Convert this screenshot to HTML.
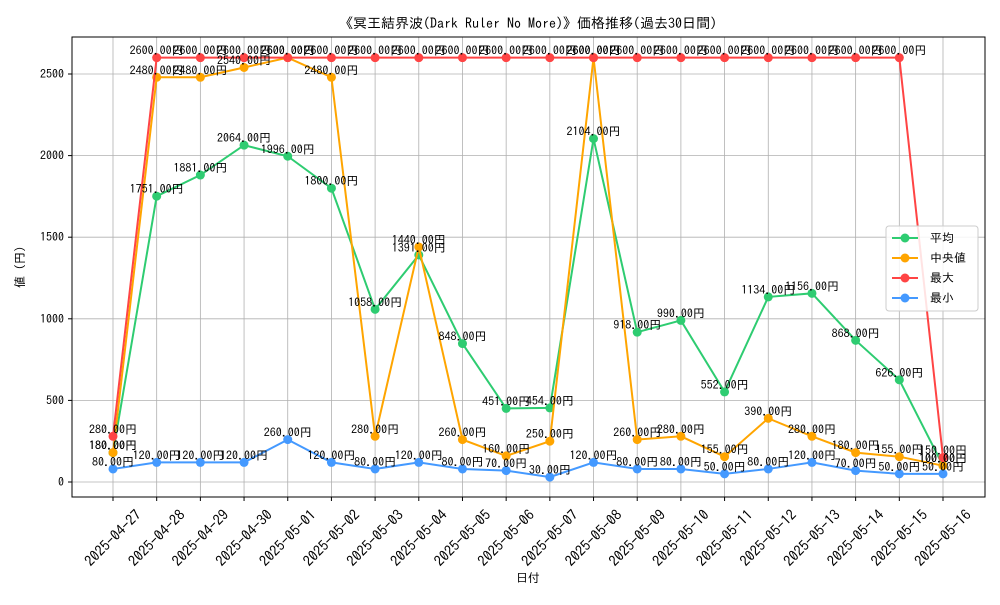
<!DOCTYPE html>
<html><head><meta charset="utf-8"><style>
body{margin:0;background:#fff;}
svg{font-family:"IPAGothic","Noto Sans CJK JP",sans-serif;}
</style></head><body>
<svg id="c" width="1000" height="600" xmlns="http://www.w3.org/2000/svg"></svg>
<script>
const dates=["2025-04-27","2025-04-28","2025-04-29","2025-04-30","2025-05-01","2025-05-02","2025-05-03","2025-05-04","2025-05-05","2025-05-06","2025-05-07","2025-05-08","2025-05-09","2025-05-10","2025-05-11","2025-05-12","2025-05-13","2025-05-14","2025-05-15","2025-05-16"];
const avgVals=[180,1751,1881,2064,1996,1800,1058,1391,848,451,454,2104,918,990,552,1134,1156,868,626,100];
const medVals=[180,2480,2480,2540,2600,2480,280,1440,260,160,250,2600,260,280,155,390,280,180,155,100];
const maxVals=[280,2600,2600,2600,2600,2600,2600,2600,2600,2600,2600,2600,2600,2600,2600,2600,2600,2600,2600,150];
const minVals=[80,120,120,120,260,120,80,120,80,70,30,120,80,80,50,80,120,70,50,50];
const yTicks=[0,500,1000,1500,2000,2500];
const seriesNames=["平均","中央値","最大","最小"];
const NS="http://www.w3.org/2000/svg";
const svg=document.getElementById('c');
const L=72,R=985,T=37,B=497;
const x=i=>113+i*(943-113)/(dates.length-1);
const y=v=>482-v*(408/2500);
function el(t,a,p){const e=document.createElementNS(NS,t);for(const k in a)e.setAttribute(k,a[k]);(p||svg).appendChild(e);return e;}
dates.forEach((d,i)=>{const g=el('line',{x1:x(i),x2:x(i),y1:T,y2:B,stroke:'#b0b0b0','stroke-width':0.8});

});
yTicks.forEach(v=>{const g=el('line',{x1:L,x2:R,y1:y(v),y2:y(v),stroke:'#b0b0b0','stroke-width':0.8});


const t=el('text',{x:L-8,y:y(v)+4,'text-anchor':'end','font-size':12});t.textContent=v;


el('line',{x1:L-4,x2:L,y1:y(v),y2:y(v),stroke:'#000'});});
const fr=el('rect',{x:L,y:T,width:R-L,height:B-T,fill:'none',stroke:'#000','stroke-width':1});


dates.forEach((d,i)=>{el('line',{x1:x(i),x2:x(i),y1:B,y2:B+4,stroke:'#000'});
const t=el('text',{x:0,y:5,'text-anchor':'middle','font-size':14.5,transform:`translate(${x(i)} 538) rotate(-45)`});t.textContent=d;

});
const series=[[avgVals,'#2ecc71'],[medVals,'#ffa500'],[maxVals,'#ff4444'],[minVals,'#4499ff']];
series.forEach(([vals,c],si)=>{
const g=el('g',{});


el('polyline',{points:vals.map((v,i)=>x(i)+','+y(v)).join(' '),fill:'none',stroke:c,'stroke-width':2},g);
vals.forEach((v,i)=>{const p=el('circle',{cx:x(i),cy:y(v),r:4.5,fill:c},g);

});
});
series.forEach(([vals,c])=>{vals.forEach((v,i)=>{const t=el('text',{x:x(i),y:y(v)-3,'text-anchor':'middle','font-size':12});t.textContent=v.toFixed(2)+'円';

});});
const ti=el('text',{x:528,y:28,'text-anchor':'middle','font-size':14});ti.textContent='《冥王結界波(Dark Ruler No More)》価格推移(過去30日間)';


const xl=el('text',{x:528,y:582,'text-anchor':'middle','font-size':12});xl.textContent='日付';


const yl=el('text',{x:24,y:267,'text-anchor':'middle','font-size':12,transform:'rotate(-90 24 267)'});yl.textContent='値 (円)';


const lg=el('g',{});


el('rect',{x:886,y:226,width:92,height:85,fill:'#fff','fill-opacity':0.85,stroke:'#ccc',rx:3},lg);
series.forEach(([v,c],i)=>{const yy=238+i*20;
el('line',{x1:892,x2:918,y1:yy,y2:yy,stroke:c,'stroke-width':2},lg);
el('circle',{cx:905,cy:yy,r:4.5,fill:c},lg);
const t=el('text',{x:930,y:yy+4,'font-size':12},lg);t.textContent=seriesNames[i];

});
</script>
</body></html>
